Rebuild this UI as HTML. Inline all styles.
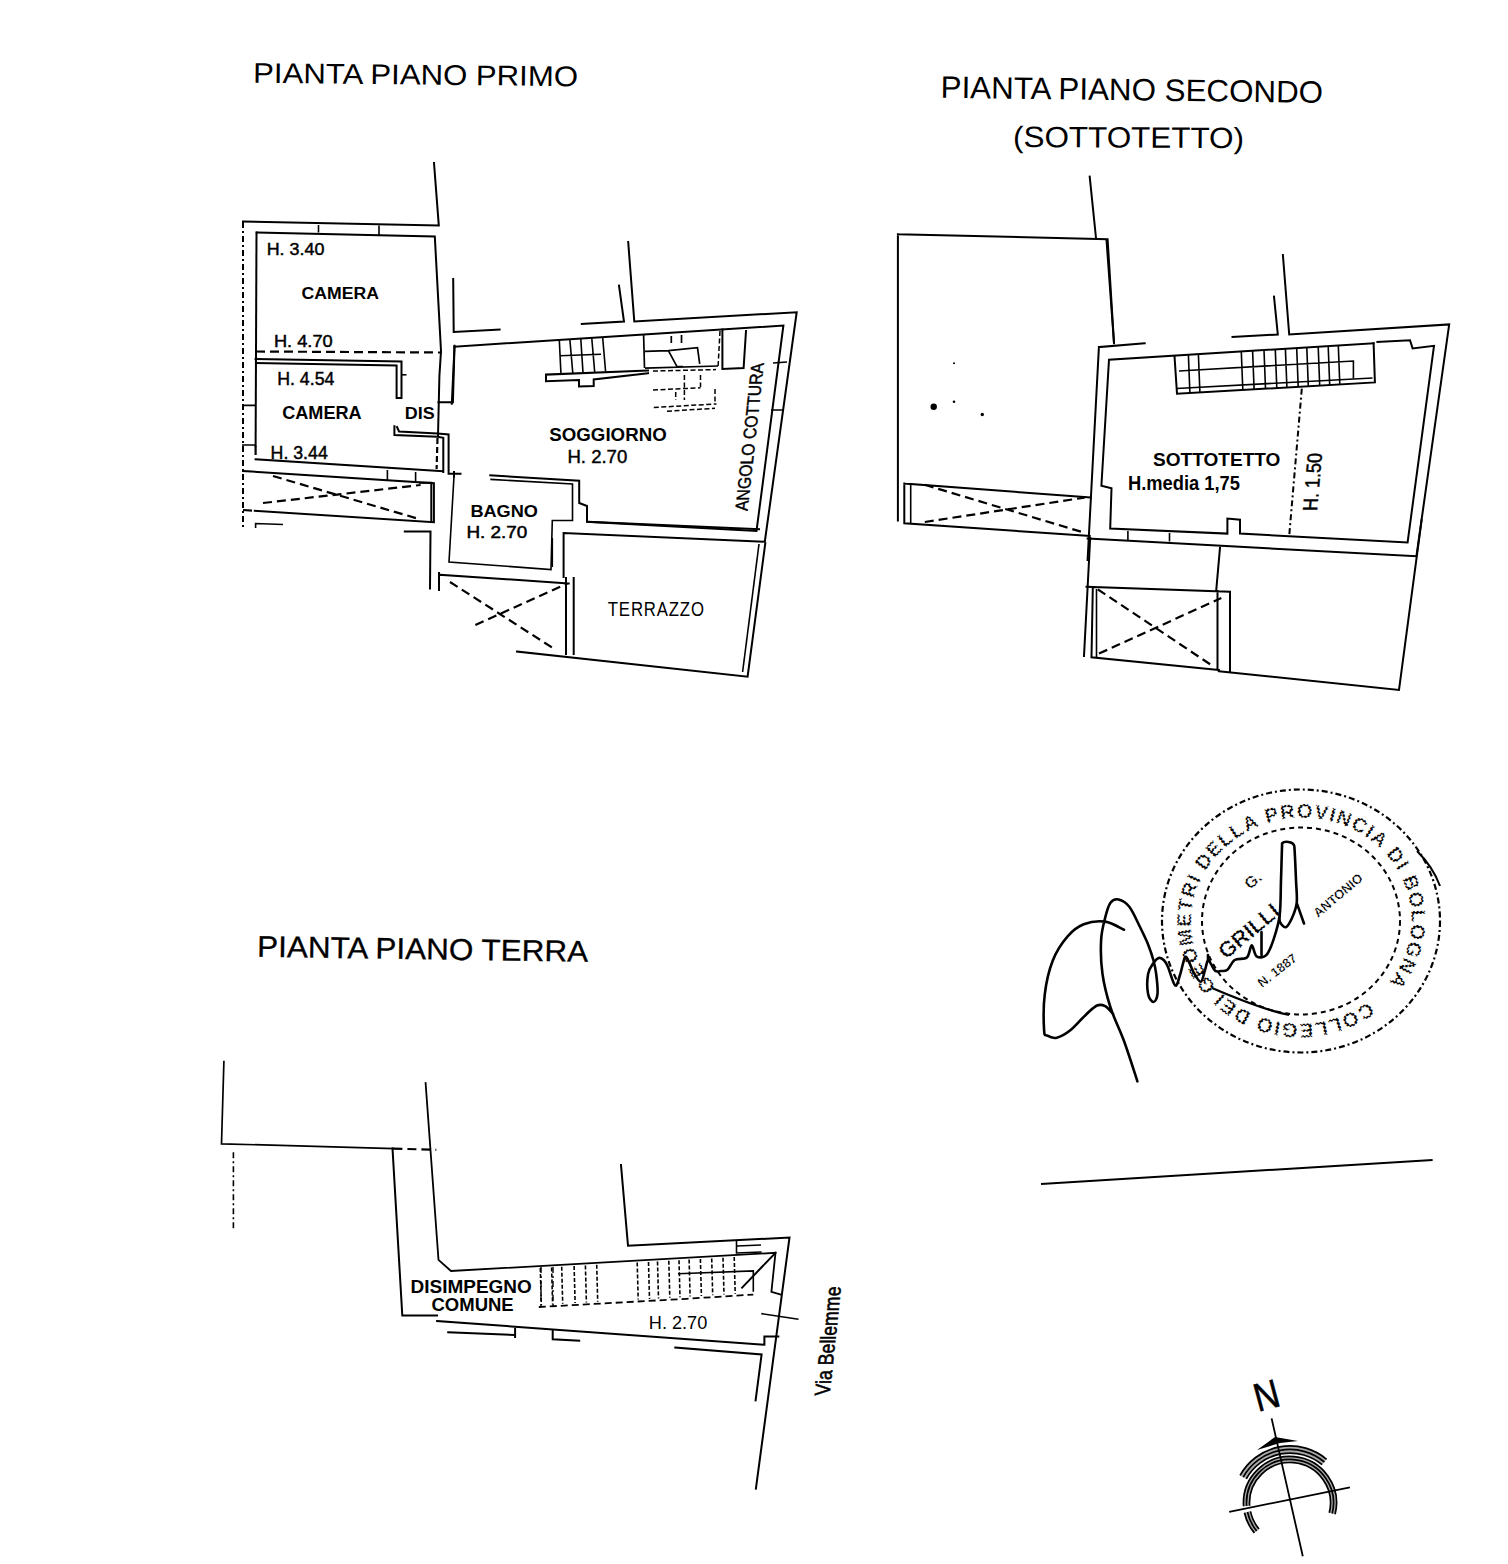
<!DOCTYPE html>
<html><head><meta charset="utf-8">
<style>
html,body{margin:0;padding:0;background:#fff;}
body{width:1508px;height:1564px;overflow:hidden;}
svg{display:block;}
text{font-family:"Liberation Sans",sans-serif;fill:#000;}
.w{stroke:#000;stroke-width:2;fill:none;stroke-linejoin:miter;stroke-linecap:square;}
.t{stroke:#000;stroke-width:1.6;fill:none;}
.d{stroke:#000;stroke-width:2.2;fill:none;stroke-dasharray:9 5;}
.dd{stroke:#000;stroke-width:2;fill:none;stroke-dasharray:6 3 2 3;}
.g{stroke:#555;stroke-width:1.3;fill:none;}
</style></head>
<body>
<svg width="1508" height="1564" viewBox="0 0 1508 1564">
<!-- TITLES -->
<text x="253" y="82.7" font-size="28.5" textLength="325" lengthAdjust="spacingAndGlyphs" transform="rotate(0.63 253 82.7)">PIANTA PIANO PRIMO</text>
<text x="940.5" y="97.8" font-size="31" textLength="382.5" lengthAdjust="spacingAndGlyphs" transform="rotate(0.75 940.5 97.8)">PIANTA PIANO SECONDO</text>
<text x="1013" y="147" font-size="29.5" textLength="231" lengthAdjust="spacingAndGlyphs" transform="rotate(0.3 1013 147)">(SOTTOTETTO)</text>
<text x="257" y="956.8" font-size="30" textLength="331" lengthAdjust="spacingAndGlyphs" transform="rotate(0.85 257 956.8)" stroke="#000" stroke-width="0.3">PIANTA PIANO TERRA</text>

<!-- FIRST FLOOR -->

<g id="p1">
<!-- camera 1 -->
<path class="w" d="M243,221.6 L438.8,225.6 L434,163"/>
<path class="w" d="M256.8,232.5 L434.8,236.5 L441,351 L439.4,376 L438,436"/>
<path class="d" d="M437.5,438 L436.6,469" style="stroke-dasharray:6 3"/>
<path class="t" d="M318.5,225 L318.5,232.5 M379,225.5 L379,236"/>
<path class="w" d="M256.5,232.5 L255.6,446"/>
<path class="dd" d="M243,222 L243,527"/>
<path class="t" d="M242,405.4 L256,405.4 M242,445 L256,445"/>
<path class="d" d="M256,351.5 L442,352.5"/>
<path class="d" d="M255.6,446 L255.6,460"/>
<!-- camera 2 top wall -->
<path class="w" d="M255.6,359 L401.5,361.5 L401.5,398 L396.6,398 L396.6,365.5 L256,363"/>
<path class="t" d="M401.5,374.8 L406.5,374.8"/>
<path class="w" d="M394.4,426.3 L394.4,435 L437.5,436.8 L443.3,437.8 L443.3,472 M397,427 L399,431.5 L437.5,433.5 L448.6,434.5 L448.6,473.7 L460.5,473.7"/>

<!-- DIS corridor -->
<path class="w" d="M453.2,279 L453.7,332 L499.6,329.5"/>
<path class="w" d="M454.5,345.8 L452.9,402.3 L438.5,402.3"/>

<!-- camera 2 bottom -->
<path class="w" d="M255.6,459.3 L442.3,471.3"/>
<path class="w" d="M243,471 L433.9,483.3 L433.9,522.3 L254.8,510.7"/>
<path class="t" d="M387.4,470 L387.4,480 M415.6,472 L415.6,482"/>
<path class="d" d="M243,510 L254.8,510.7"/>
<path class="d" d="M263,503 L420.6,485 M273,476 L419,519"/>
<path class="t" d="M255.6,528 L255.6,523.5 L283,524.5"/>
<path class="w" d="M420,482.7 L431.3,482.7 L431.3,520.5 M404.8,531.5 L430.5,531.5 L430,588.5"/>
<path class="w" d="M454,472 L454,476.4"/>
<!-- soggiorno -->
<path class="w" d="M454.5,346.7 L783.4,325.5 L756.5,531 L587,521.8 L587,506 L579.2,503 L579.2,480.7 L490.3,475.4"/>
<path class="t" d="M490.3,479.4 L572.5,484 L572.5,520.5 L552.3,520.5 L551,569.6 L449,562 L454,476.4"/>
<path class="w" d="M454.5,346.7 L451.8,403.7"/>
<path class="w" d="M628.2,242 L634.3,321.5 L796.7,312.2 L764.8,541.7 L563.6,533 L563.6,577"/>
<path class="w" d="M619,285.7 L624,321.5 L581.8,324"/>
<!-- stairs -->
<path class="t" d="M559.3,340 L561,374.6 M560,355.7 L601,354.3 M569.9,340 L572.8,373 M580.8,339 L583,372.5 M591.8,338.5 L594.7,372 M602.7,338 L605.6,371.5"/>
<path class="w" d="M546,374.6 L648,370.6 M546,381.2 L579,380 L579,386.5 L593.7,386 L593.7,379.5 L648,373.2 M546,374.6 L546,381.2"/>
<path d="M643.6,334.6 L644.5,368.1 M645,351.4 L668.4,350.6 L697.5,347.7 L699.7,363.8 M668.4,350.6 L677,366.7 L683,366.7 M671.3,336 L671.3,343 M681.5,335 L681.5,343 M645,368.1 L718,366" stroke="#000" stroke-width="1.7" fill="none"/>
<path d="M653,371 L716,369.6 M653,390 L700.5,387.8 M653.8,407.5 L716.5,403.9 M667,411.2 L715,408.3 M684.4,375 L684.4,400 M700.5,375 L700.5,387 M715,389 L715,402 M675.7,392 L675.7,400 M720,331 L718,368" stroke="#000" stroke-width="1.5" fill="none" stroke-dasharray="5 2.5"/>
<path class="w" d="M722.4,329.5 L722.4,369 L743.6,368 L746,331"/>
<path class="t" d="M773,363 L787,362 M771,410 L784,410"/>
<!-- terrace / X box -->
<path class="t" d="M552.3,538 L552.3,567"/>
<path class="w" d="M440,574.7 L568.7,583.5 M439,573 L439,590 M566,578 L566,654 M573.7,578 L573.7,654 M517,651.5 L747.6,676.7 L765.3,543"/>
<path class="t" d="M742.6,672 L759,544"/>
<path class="d" d="M450,582 L556,650 M475.4,625 L567.4,583.5"/>
<path class="w" d="M587.6,521.7 L759,529.3"/>
<text x="266.7" y="255.4" font-size="17.2" font-weight="normal" textLength="57.7" lengthAdjust="spacingAndGlyphs" stroke="#000" stroke-width="0.45">H. 3.40</text>
<text x="301.6" y="299.0" font-size="17.4" font-weight="bold" textLength="77.4" lengthAdjust="spacingAndGlyphs">CAMERA</text>
<text x="273.9" y="346.6" font-size="16.8" font-weight="normal" textLength="58.8" lengthAdjust="spacingAndGlyphs" stroke="#000" stroke-width="0.45">H. 4.70</text>
<text x="277.2" y="384.7" font-size="18.0" font-weight="normal" textLength="57.2" lengthAdjust="spacingAndGlyphs" stroke="#000" stroke-width="0.45">H. 4.54</text>
<text x="282.2" y="418.7" font-size="18.0" font-weight="bold" textLength="79.5" lengthAdjust="spacingAndGlyphs">CAMERA</text>
<text x="404.8" y="418.7" font-size="17.0" font-weight="bold" textLength="29.9" lengthAdjust="spacingAndGlyphs">DIS</text>
<text x="270.6" y="459.3" font-size="18.0" font-weight="normal" textLength="57.2" lengthAdjust="spacingAndGlyphs" stroke="#000" stroke-width="0.45">H. 3.44</text>
<text x="549.3" y="441.2" font-size="18.8" font-weight="bold" textLength="117.4" lengthAdjust="spacingAndGlyphs">SOGGIORNO</text>
<text x="567.4" y="463.2" font-size="19.1" font-weight="normal" textLength="59.9" lengthAdjust="spacingAndGlyphs" stroke="#000" stroke-width="0.45">H. 2.70</text>
<text x="470.4" y="516.5" font-size="17.4" font-weight="bold" textLength="67.6" lengthAdjust="spacingAndGlyphs">BAGNO</text>
<text x="466.4" y="537.7" font-size="17.2" font-weight="normal" textLength="61.0" lengthAdjust="spacingAndGlyphs" stroke="#000" stroke-width="0.5">H. 2.70</text>
<text x="607.8" y="616.2" font-size="20.0" font-weight="normal" textLength="97.0" lengthAdjust="spacingAndGlyphs" fill="#444" letter-spacing="1">TERRAZZO</text>
<text transform="translate(747.6,510.9) rotate(-90) skewY(6.3)" x="0" y="0" font-size="18" textLength="148" lengthAdjust="spacingAndGlyphs" stroke="#000" stroke-width="0.45">ANGOLO COTTURA</text>
</g>

<!-- SECOND FLOOR -->

<g id="p2">
<path class="w" d="M897.9,234.2 L1107.6,239.3 L1114,342.9 M897.9,234.2 L897.9,520.6 M1089.7,176.6 L1096,238"/>
<path class="w" d="M1098.9,347.1 L1144.7,343.3 M1098.9,347.1 L1087.6,560"/>
<path class="w" d="M1373.6,343.3 L1109,359.7 L1101.4,485.7 L1111.5,488.2 L1110.2,528.6 L1227.4,533.6 L1227.4,518.5 L1240,519.7 L1240,533.6 L1407.6,542.4 L1434,345.8 L1412.6,348.4 L1410,340.3 L1377.4,342"/>
<path class="w" d="M1106.5,240 L1114,343.3 M1282.9,255 L1289.2,334.5 L1449.2,324.4 L1416.4,556.3 L1087.6,538.6 M1274,296.7 L1277.8,334.5 L1232.5,337"/>
<path class="t" d="M1127.9,531 L1127.9,540 M1169.5,533 L1169.5,541.5"/>
<!-- stairs -->
<path class="w" d="M1174.5,356 L1177,393.7 L1374.9,382.4 L1373.6,343.3"/>
<path class="t" d="M1176.5,388.5 L1372.5,378"/>
<path class="t" d="M1179,371 L1353.4,361 L1353.4,378.6 M1188.4,355.1 L1189.9,393.0 M1198.4,354.5 L1199.9,392.5 M1241.3,351.7 L1242.8,390.0 M1252.6,351.0 L1254.1,389.4 M1264.0,350.3 L1265.5,388.7 M1275.3,349.6 L1276.8,388.1 M1285.4,348.9 L1286.9,387.5 M1296.7,348.2 L1298.2,386.9 M1306.8,347.6 L1308.3,386.3 M1318.2,346.8 L1319.7,385.6 M1328.2,346.2 L1329.7,385.1 M1338.3,345.6 L1339.8,384.5"/>
<path class="dd" d="M1301.8,388.7 L1289.2,536"/>
<!-- X box left -->
<path class="w" d="M904.3,483.5 L1091,497.6 M904.3,483.5 L904.3,523.2 L1089.7,536"/>
<path class="t" d="M910.7,484 L910.7,523.5"/>
<path class="d" d="M924.8,484.8 L1082,532 M924.8,522 L1084.6,497.6"/>
<circle cx="933.7" cy="406.8" r="3.2"/><circle cx="954" cy="401.7" r="1.3"/><circle cx="982.3" cy="414.5" r="1.7"/><circle cx="954" cy="363.3" r="1"/>
<!-- lower -->
<path class="w" d="M1090.2,538 L1084,656 M1421.6,520 L1399,690 L1218.8,671.2 M1220,547.7 L1216.2,590.6"/>
<path class="w" d="M1086.5,586.8 L1230,591.8 L1230,671 M1092.8,588 L1091.5,657.3 L1218.8,670 M1217.5,591 L1217.5,670"/>
<path class="t" d="M1096.5,589 L1096.5,657"/>
<path class="d" d="M1097.8,589.3 L1211.2,665 M1099,653.6 L1221.3,598"/>
<text x="1153.0" y="465.6" font-size="18.3" font-weight="bold" textLength="127.4" lengthAdjust="spacingAndGlyphs">SOTTOTETTO</text>
<text x="1127.9" y="489.5" font-size="19.6" font-weight="bold" textLength="112.1" lengthAdjust="spacingAndGlyphs">H.media 1,75</text>
<text transform="translate(1317,511) rotate(-90) skewY(5)" x="0" y="0" font-size="20.5" textLength="58" lengthAdjust="spacingAndGlyphs" stroke="#000" stroke-width="0.5">H. 1.50</text>
</g>


<!-- GROUND FLOOR -->

<g id="p0">
<path class="w" d="M223.9,1061.5 L221.5,1143.8 L393.4,1148.6" style="stroke-width:1.7"/>
<path class="d" d="M393.4,1148.6 L436.3,1149.8"/>
<path class="dd" d="M233.4,1152.2 L233.4,1228.6" style="stroke-width:1.6"/>
<path class="w" style="stroke-width:1.8" d="M425.6,1083 L438.5,1259.8 L451,1271 L775.5,1252.8 L771.4,1291.8 L781,1294.6"/>
<path class="w" d="M392.5,1148.4 L402.3,1315.5 L437,1315.5 M437.1,1321 L764.4,1344.7 L764.4,1336.4 L778.3,1336.4"/>
<path class="w" d="M621,1165 L628,1245.8 L789.5,1237.5 L755.9,1488.7"/>
<path class="t" d="M736.5,1240 L736.5,1253 L761.6,1252 M737,1246 L761,1245"/>
<path class="w" d="M775.5,1252.8 L742.1,1287.6"/>
<path class="d" d="M538.8,1307 L686.4,1298.8 L753.3,1294.6" style="stroke-width:1.8;stroke-dasharray:7 4"/>
<path class="g" d="M540.3,1268.0 L541.3,1304.9 M551.6,1267.4 L552.6,1304.3 M561.7,1266.8 L562.7,1303.7 M574.1,1266.1 L575.1,1303.0 M585.4,1265.5 L586.4,1302.4 M596.7,1264.8 L597.7,1301.8 M637.2,1262.6 L638.2,1299.5 M648.5,1261.9 L649.5,1298.9 M657.5,1261.4 L658.5,1298.4 M668.8,1260.8 L669.8,1297.8 M679.0,1260.2 L680.0,1297.2 M689.1,1259.6 L690.1,1296.6 M700.4,1259.0 L701.4,1295.9 M711.7,1258.4 L712.7,1295.2 M723.0,1257.7 L724.0,1294.5 M734.2,1257.1 L735.2,1293.8" style="stroke:#000;stroke-dasharray:4 2;stroke-width:1.6"/>
<path class="t" d="M678,1273.7 L753.3,1270.9 L753.3,1291.8"/>
<path class="w" d="M448.2,1332.2 L515.1,1335 M515.1,1329 L515.1,1337 M552.7,1330.8 L552.7,1339.2 L579.2,1340.6"/>
<path class="w" d="M675.3,1347.5 L761.6,1354.5 L755.6,1400.4"/>
<path class="t" d="M761.3,1313.6 L798.5,1319.2"/>
<path class="dd" d="M541,1267 L541,1309 M553,1267 L553,1309" style="stroke-width:1.4"/>
<text x="410.6" y="1293.2" font-size="18.1" font-weight="bold" textLength="121.2" lengthAdjust="spacingAndGlyphs">DISIMPEGNO</text>
<text x="431.5" y="1311.3" font-size="18.1" font-weight="bold" textLength="82.2" lengthAdjust="spacingAndGlyphs">COMUNE</text>
<text x="648.8" y="1329.4" font-size="18.1" font-weight="normal" textLength="58.5" lengthAdjust="spacingAndGlyphs" fill="#555">H. 2.70</text>
<text transform="translate(829.5,1395.5) rotate(-90) skewY(6.1)" x="0" y="0" font-size="21.5" textLength="109" lengthAdjust="spacingAndGlyphs" stroke="#000" stroke-width="0.6">Via Bellemme</text>
</g>


<!-- STAMP / SIGNATURE -->

<g id="stamp">
<ellipse cx="1301" cy="921" rx="139" ry="131.5" fill="none" stroke="#000" stroke-width="2.2" stroke-dasharray="6 3 2 3"/>
<ellipse cx="1301" cy="921" rx="99" ry="93.5" fill="none" stroke="#000" stroke-width="2" stroke-dasharray="5 4"/>
<path id="ring" d="M1371.1,999.1 A109,102 0 1 1 1230.9,842.9 A109,102 0 1 1 1371.2,999.0" fill="none"/>
<text font-size="20" font-weight="bold" fill="#111" stroke="#fff" stroke-width="1.6" stroke-dasharray="1.5 2.2"><textPath href="#ring" startOffset="4" textLength="640" lengthAdjust="spacing">COLLEGIO DEI GEOMETRI DELLA PROVINCIA DI BOLOGNA</textPath></text>
<text transform="translate(1226,960) rotate(-40)" font-size="22" font-weight="bold" fill="#000" stroke="#fff" stroke-width="1" stroke-dasharray="2 2">GRILLI</text>
<text transform="translate(1250,890) rotate(-40)" font-size="16" font-weight="bold" fill="#222" stroke="#fff" stroke-width="0.8" stroke-dasharray="2 2">G.</text>
<text transform="translate(1262,988) rotate(-38)" font-size="13" font-weight="bold" fill="#444" stroke="#fff" stroke-width="0.6" stroke-dasharray="2 2">N. 1887</text>
<text transform="translate(1318,918) rotate(-40)" font-size="13" font-weight="bold" fill="#555" stroke="#fff" stroke-width="0.6" stroke-dasharray="2 2">ANTONIO</text>
<path d="M1137.4,1081.3 C1135.2,1074.6 1128.5,1053.3 1124.0,1041.0 C1119.5,1028.7 1114.1,1018.7 1110.5,1007.5 C1106.9,996.3 1104.1,985.2 1102.5,974.0 C1100.9,962.8 1100.6,949.8 1101.1,940.4 C1101.5,931.0 1103.6,923.9 1105.2,917.6 C1106.8,911.3 1108.3,905.8 1110.5,902.8 C1112.7,899.8 1115.5,898.8 1118.6,899.5 C1121.7,900.2 1125.7,902.2 1129.3,906.8 C1132.9,911.4 1136.9,920.7 1140.0,927.0 C1143.1,933.3 1145.8,938.8 1148.1,944.4 C1150.3,950.0 1152.2,955.6 1153.5,960.5 C1154.8,965.4 1155.5,968.4 1156.2,974.0 C1156.9,979.6 1158.0,989.3 1157.5,994.0 C1157.0,998.7 1155.1,1002.0 1153.5,1002.0 C1151.9,1002.0 1149.0,998.7 1148.1,994.0 C1147.2,989.3 1147.2,979.2 1148.1,974.0 C1149.0,968.8 1151.7,965.7 1153.5,963.0 C1155.3,960.3 1157.1,958.3 1158.9,957.9 C1160.7,957.5 1162.7,959.0 1164.2,960.5 C1165.7,962.0 1166.2,962.8 1168.0,967.0 C1169.8,971.2 1173.2,984.2 1175.2,985.5 C1177.2,986.8 1178.4,979.7 1180.0,975.0 C1181.6,970.3 1183.5,959.7 1185.0,957.5 C1186.5,955.3 1187.6,959.6 1189.0,962.0 C1190.4,964.4 1191.5,968.7 1193.4,972.0 C1195.4,975.3 1198.8,982.1 1200.7,981.8 C1202.6,981.5 1203.8,973.6 1205.0,970.0 C1206.2,966.4 1207.0,961.0 1208.0,960.0 C1209.0,959.0 1209.8,962.2 1211.0,964.0 C1212.2,965.8 1213.6,969.7 1215.3,970.9 C1217.0,972.1 1219.0,971.2 1221.0,971.0 C1223.0,970.8 1225.2,971.5 1227.5,969.7 C1229.8,967.9 1231.5,962.0 1234.7,960.0 C1237.9,958.0 1244.1,959.9 1246.9,957.5 C1249.7,955.1 1250.1,945.6 1251.7,945.4 C1253.3,945.2 1254.2,954.7 1256.6,956.3 C1259.0,957.9 1263.5,957.9 1266.3,955.1 C1269.1,952.3 1271.4,946.0 1273.6,939.3 C1275.8,932.6 1278.5,924.9 1279.7,915.0 C1280.9,905.1 1280.6,891.9 1281.0,880.0 C1281.4,868.1 1281.9,849.5 1282.1,843.4 C1284,841 1293,841 1294.3,846 C1294.6,849.5 1295.6,870.1 1296.0,880.0 C1296.4,889.9 1297.4,896.6 1296.7,902.9 C1296.0,909.2 1293.8,914.0 1292.0,918.0 C1290.2,922.0 1287.8,926.5 1285.8,927.2 C1283.8,927.9 1281.0,924.0 1280.0,922.0 C1279.0,920.0 1279.8,916.2 1279.7,915.0 M1124.0,929.7 C1120.9,928.4 1111.9,922.5 1105.2,921.6 C1098.5,920.7 1090.0,921.8 1083.7,924.3 C1077.4,926.8 1072.8,930.4 1067.6,936.4 C1062.4,942.4 1056.6,950.9 1052.8,960.5 C1049.0,970.1 1046.2,982.5 1044.8,994.1 C1043.3,1005.7 1043.7,1023.4 1044.1,1030.3 C1044.5,1037.2 1045.3,1034.5 1047.4,1035.7 C1049.5,1036.9 1053.0,1038.6 1056.8,1037.7 C1060.6,1036.8 1065.4,1034.2 1070.3,1030.3 C1075.2,1026.4 1081.9,1018.3 1086.4,1014.2 C1090.9,1010.1 1094.0,1006.8 1097.1,1005.5 C1100.2,1004.2 1102.5,1004.8 1105.2,1006.2 C1107.9,1007.7 1111.9,1012.9 1113.2,1014.2 M1296.7,902.9 L1304,923.5 M1261.5,932 L1261.5,955.1 M1208,960 L1208,955" fill="none" stroke="#000" stroke-width="2.6" stroke-linejoin="round" stroke-linecap="round"/>
<path d="M1212,988 C1240,1000 1265,1010 1289,1015" fill="none" stroke="#000" stroke-width="2.2"/>
<path d="M1417,851 C1428,862 1436,875 1440,886" fill="none" stroke="#000" stroke-width="2"/>
</g>


<path d="M1041,1184.1 L1432.6,1159.9" stroke="#000" stroke-width="2" fill="none"/>
<!-- COMPASS -->

<g id="compass">
<text transform="translate(1258,1412) rotate(-15)" x="0" y="0" font-size="40" stroke="#000" stroke-width="0.6" textLength="25" lengthAdjust="spacingAndGlyphs">N</text>
<path d="M1243.2,1477.1 A53.5,53.5 0 0 1 1324.4,1462.0 M1246.6,1506.0 A43.5,43.5 0 1 1 1332.2,1513.5 M1256.7,1531.0 A43.5,43.5 0 0 1 1247.5,1512.0" fill="none" stroke="#aaa" stroke-width="7"/>
<path class="t" d="M1271.6,1418.4 L1302.8,1556.3 M1229.2,1511.9 L1349.9,1487.3" style="stroke-width:1.8"/>
<path class="t" d="M1246.3,1478.8 A50.0,50.0 0 0 1 1322.1,1464.7 M1243.2,1477.1 A53.5,53.5 0 0 1 1324.4,1462.0 M1240.1,1475.4 A57.0,57.0 0 0 1 1326.6,1459.3" style="stroke-width:1.7"/>
<path class="t" d="M1249.6,1505.8 A40.5,40.5 0 1 1 1329.3,1512.8 M1259.0,1529.0 A40.5,40.5 0 0 1 1250.4,1511.4 M1246.6,1506.0 A43.5,43.5 0 1 1 1332.2,1513.5 M1256.7,1531.0 A43.5,43.5 0 0 1 1247.5,1512.0 M1243.6,1506.2 A46.5,46.5 0 1 1 1335.1,1514.2 M1254.4,1532.9 A46.5,46.5 0 0 1 1244.5,1512.7" style="stroke-width:1.7"/>
<path d="M1257,1450 L1275,1437 L1298,1441 L1280,1443 Z" fill="#000"/>
</g>

</svg>
</body></html>
